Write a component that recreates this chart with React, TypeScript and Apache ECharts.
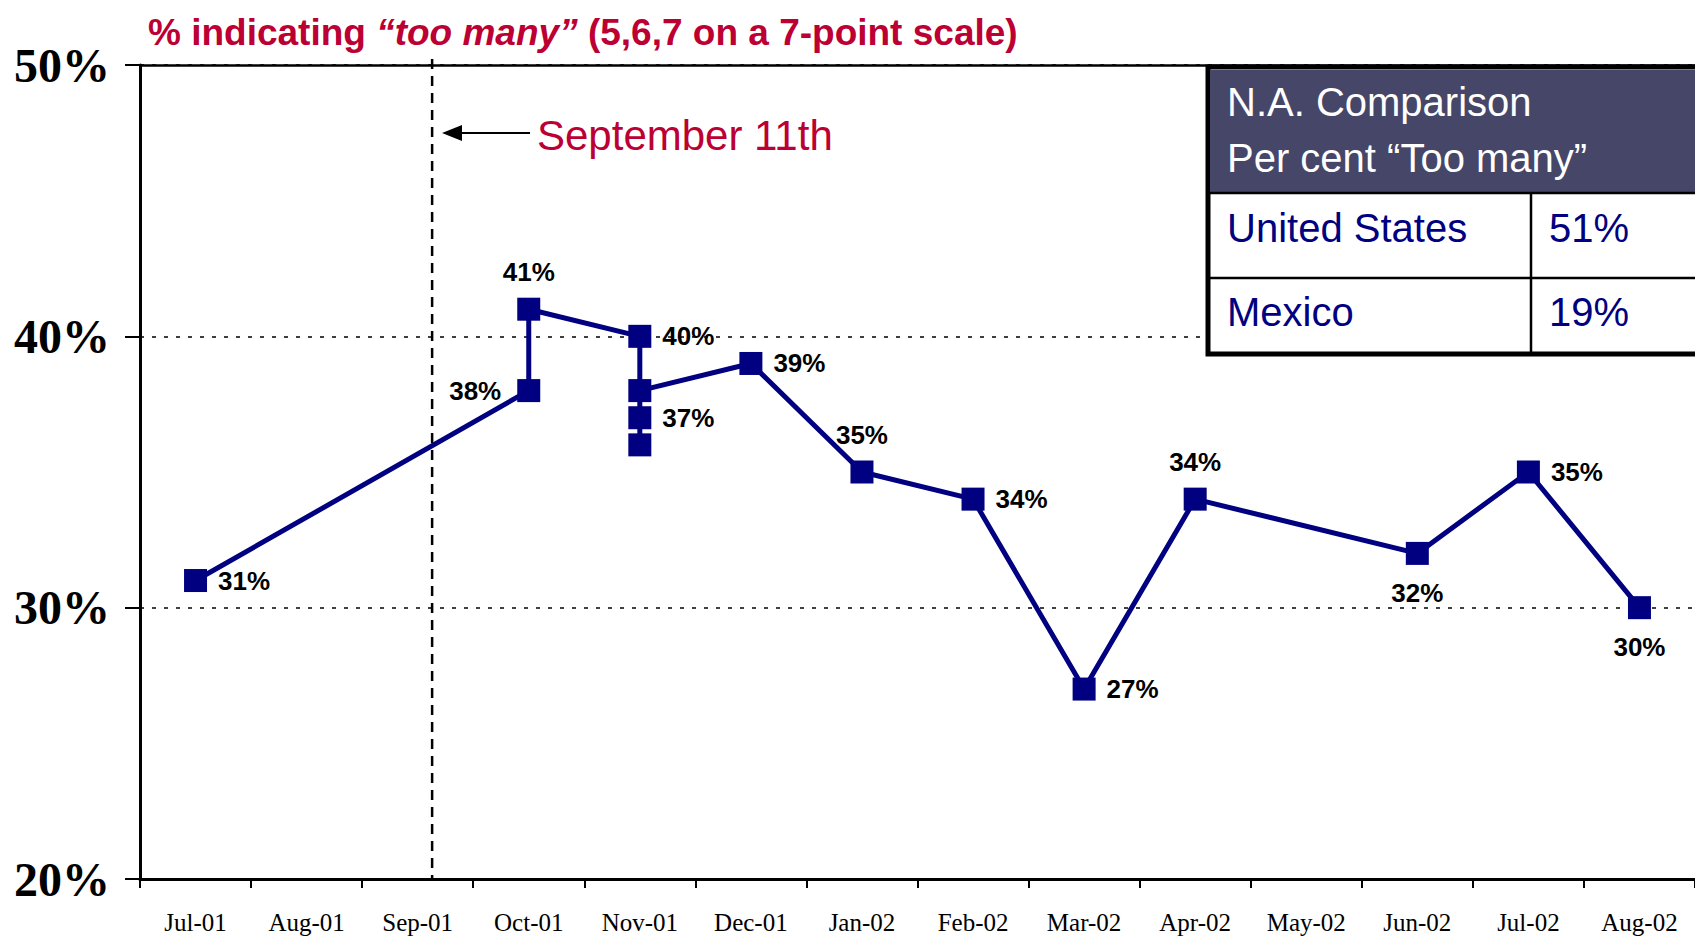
import React, { useEffect, useRef } from "react";
import * as echarts from "echarts";

const MONTHS = ["Jul-01","Aug-01","Sep-01","Oct-01","Nov-01","Dec-01","Jan-02","Feb-02","Mar-02","Apr-02","May-02","Jun-02","Jul-02","Aug-02"];
const POINT_MONTHS = ["Jul-01","Oct-01","Oct-01","Nov-01","Nov-01","Nov-01","Nov-01","Dec-01","Jan-02","Feb-02","Mar-02","Apr-02","Jun-02","Jul-02","Aug-02"];
const POINT_VALUES = [31, 38, 41, 40, 36, 37, 38, 39, 35, 34, 27, 34, 32, 35, 30];
const LABEL_SHOWN = [true, true, true, true, false, true, false, true, true, true, true, true, true, true, true];
const LABEL_POS = ["right","left","top","right","right","right","right","right","top","right","right","top","bottom","right","bottom"];
const Y_TICKS = [20, 30, 40, 50];
const SEPT11_X = 2.63; // month index (value axis) of the September 11th marker
const TABLE_HEAD = ["N.A. Comparison", "Per cent \u201cToo many\u201d"];
const TABLE_COUNTRIES = ["United States", "Mexico"];
const TABLE_VALUES = ["51%", "19%"];

const CRIMSON = "#BC0033";
const NAVY = "#000080";
const SANS = "'Liberation Sans', Arial, sans-serif";
const SERIF = "'Liberation Serif', 'Times New Roman', serif";

export default function App() {
  const ref = useRef<HTMLDivElement>(null);
  useEffect(() => {
    if (!ref.current) return;
    const chart = echarts.init(ref.current, null, { renderer: "svg" });
    const dist: Record<string, number> = { left: 16, right: 11, top: 13, bottom: 15 };
    const data = POINT_MONTHS.map((m, i) => ({
      value: [m, POINT_VALUES[i]],
      label: {
        show: LABEL_SHOWN[i],
        position: LABEL_POS[i],
        distance: dist[LABEL_POS[i]],
      },
    }));
    const tableText: any[] = [];
    const rowY = [228, 312];
    TABLE_COUNTRIES.forEach((c, i) => {
      tableText.push({ type: "text", x: 1227, y: rowY[i], style: { text: c, fill: NAVY, font: "40px " + SANS, verticalAlign: "middle" } });
      tableText.push({ type: "text", x: 1549, y: rowY[i], style: { text: TABLE_VALUES[i], fill: NAVY, font: "40px " + SANS, verticalAlign: "middle" } });
    });
    const baseGraphic: any[] = [
      { type: "line", shape: { x1: 530, y1: 133, x2: 455, y2: 133 }, style: { stroke: "#000", lineWidth: 2 } },
      { type: "polygon", shape: { points: [[442, 133], [462, 125], [462, 141]] }, style: { fill: "#000" } },
      { type: "text", x: 537, y: 135, style: { text: "September 11th", fill: CRIMSON, font: "42px " + SANS, verticalAlign: "middle" } },
      { type: "rect", shape: { x: 1208, y: 67, width: 600, height: 287 }, style: { fill: "#fff", stroke: "#000", lineWidth: 5 }, z: 10 },
      { type: "rect", shape: { x: 1210, y: 70, width: 600, height: 123 }, style: { fill: "#464668" }, z: 11 },
      { type: "text", x: 1227, y: 102, style: { text: TABLE_HEAD[0], fill: "#fff", font: "40px " + SANS, verticalAlign: "middle" }, z: 12 },
      { type: "text", x: 1227, y: 158, style: { text: TABLE_HEAD[1], fill: "#fff", font: "40px " + SANS, verticalAlign: "middle" }, z: 12 },
      { type: "line", shape: { x1: 1210, y1: 278, x2: 1700, y2: 278 }, style: { stroke: "#000", lineWidth: 2.5 }, z: 12 },
      { type: "line", shape: { x1: 1210, y1: 193, x2: 1700, y2: 193 }, style: { stroke: "#000", lineWidth: 2.5 }, z: 12 },
      { type: "line", shape: { x1: 1531, y1: 193, x2: 1531, y2: 354 }, style: { stroke: "#000", lineWidth: 2.5 }, z: 12 },
      ...tableText.map((t) => ({ ...t, z: 12 })),
    ];
    const option: any = {
      animation: false,
      title: {
        left: 143,
        top: 9,
        text: "{a|% indicating }{b|\u201ctoo many\u201d}{a| (5,6,7 on a 7-point scale)}",
        textStyle: {
          rich: {
            a: { fontFamily: SANS, fontWeight: "bold", fontSize: 37, color: CRIMSON },
            b: { fontFamily: SANS, fontWeight: "bold", fontStyle: "italic", fontSize: 37, color: CRIMSON },
          },
        },
      },
      grid: { left: 140, top: 65, bottom: 58, width: 1563, containLabel: false },
      xAxis: [
        {
          type: "category",
          data: MONTHS,
          boundaryGap: true,
          axisLine: { lineStyle: { color: "#000", width: 3 } },
          axisTick: { show: true, inside: false, length: 9, lineStyle: { color: "#000", width: 2 } },
          axisLabel: { color: "#000", fontFamily: SERIF, fontSize: 25, margin: 31, interval: 0 },
          splitLine: { show: false },
        },
        { type: "value", min: 0, max: 14, show: false },
      ],
      yAxis: {
        type: "value",
        min: Y_TICKS[0],
        max: Y_TICKS[Y_TICKS.length - 1],
        interval: 10,
        axisLine: { show: true, lineStyle: { color: "#000", width: 3 } },
        axisTick: { show: true, inside: false, length: 15, lineStyle: { color: "#000", width: 2 } },
        axisLabel: {
          color: "#000",
          fontFamily: SERIF,
          fontWeight: "bold",
          fontSize: 48,
          margin: 30,
          formatter: (v: number) => v + "%",
        },
        splitLine: { show: true, lineStyle: { color: "#000", width: 1.5, type: [4, 8] } },
      },
      series: [
        {
          type: "line",
          data,
          symbol: "rect",
          symbolSize: 23,
          lineStyle: { color: NAVY, width: 5 },
          itemStyle: { color: NAVY },
          label: {
            color: "#000",
            fontFamily: SANS,
            fontWeight: "bold",
            fontSize: 26,
            formatter: (p: any) => p.value[1] + "%",
          },
          markLine: {
            silent: true,
            symbol: "none",
            label: { show: false },
            lineStyle: { color: "#000", width: 2.5, type: "solid" },
            data: [{ yAxis: 50 }],
          },
          z: 5,
        },
      ],
      graphic: baseGraphic,
    };
    chart.setOption(option);
    const sx = chart.convertToPixel({ xAxisIndex: 1 }, SEPT11_X) as number;
    const yBottom = chart.convertToPixel({ yAxisIndex: 0 }, Y_TICKS[0]) as number;
    const yTop = chart.convertToPixel({ yAxisIndex: 0 }, Y_TICKS[Y_TICKS.length - 1]) as number;
    chart.setOption({
      graphic: [
        ...baseGraphic,
        {
          type: "line",
          shape: { x1: sx, y1: yTop - 6, x2: sx, y2: yBottom },
          style: { stroke: "#000", lineWidth: 2.5, lineDash: [10, 7] },
          z: 3,
        },
      ],
    });
    return () => chart.dispose();
  }, []);
  return <div ref={ref} style={{ position: "absolute", left: 0, top: 0, width: 1695, height: 937, background: "#fff" }} />;
}
